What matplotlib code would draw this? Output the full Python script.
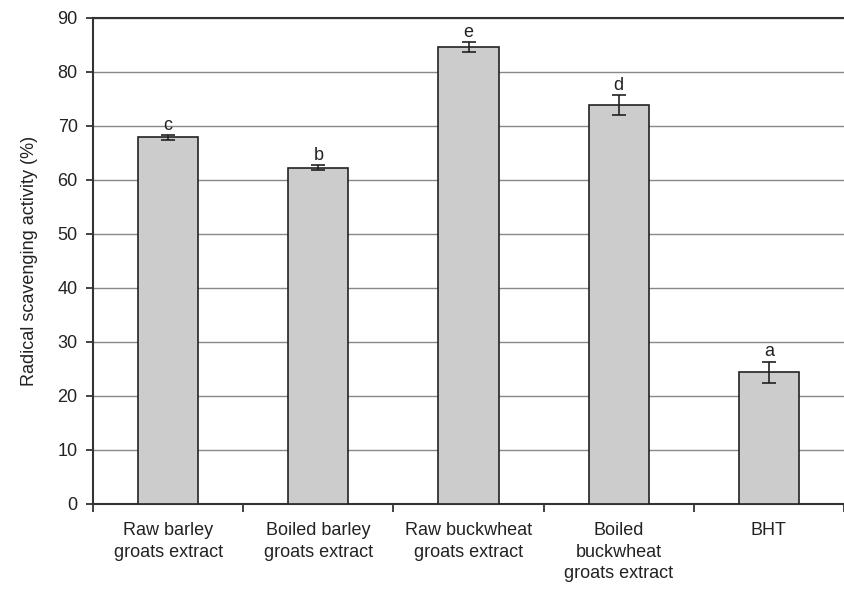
import numpy as np
import matplotlib.pyplot as plt

plt.rcParams['font.family'] = ['Liberation Sans', 'DejaVu Sans']

# Data
categories = ['Raw barley\ngroats extract', 'Boiled barley\ngroats extract',
              'Raw buckwheat\ngroats extract', 'Boiled\nbuckwheat\ngroats extract', 'BHT']
values = [67.9, 62.3, 84.6, 73.9, 24.4]
errors = [0.4, 0.4, 0.9, 1.8, 1.9]
letters = ['c', 'b', 'e', 'd', 'a']

fig = plt.figure(figsize=(8.44, 5.92), dpi=100)
ax = fig.add_axes([93 / 844, 88 / 592, 751 / 844, 486 / 592])

x = np.arange(len(categories))
ax.bar(x, values, width=0.4, color='#cccccc', edgecolor='#222222', linewidth=1.2, zorder=3)
ax.errorbar(x, values, yerr=errors, fmt='none', ecolor='#222222', elinewidth=1.2,
            capsize=5, capthick=1.2, zorder=4)

for xi, v, e, lab in zip(x, values, errors, letters):
    ax.text(xi, v + e + 0.3, lab, ha='center', va='bottom', fontsize=13, color='#222222')

ax.set_xlim(-0.5, len(categories) - 0.5)
ax.set_ylim(0, 90)
ax.set_yticks(range(0, 91, 10))
ax.yaxis.grid(True, color='#888888', linewidth=1, zorder=0)
ax.set_axisbelow(True)

# category boundary ticks on the x axis
ax.set_xticks(np.arange(-0.5, len(categories), 1.0))
ax.set_xticklabels([])
ax.set_xticks(x, minor=True)
ax.set_xticklabels(categories, minor=True, fontsize=13, color='#222222', linespacing=1.35)
ax.tick_params(axis='x', which='minor', length=0, pad=13)
ax.tick_params(axis='x', which='major', length=6, width=1.2, color='#222222')
ax.tick_params(axis='y', length=5, width=1.2, labelsize=13, colors='#222222', pad=6)

for s in ['left', 'bottom', 'top']:
    ax.spines[s].set_linewidth(1.5)
    ax.spines[s].set_color('#333333')
ax.spines['right'].set_visible(False)

ax.set_ylabel('Radical scavenging activity (%)', fontsize=13, color='#222222', labelpad=14)

fig.savefig('out.png', dpi=100)
